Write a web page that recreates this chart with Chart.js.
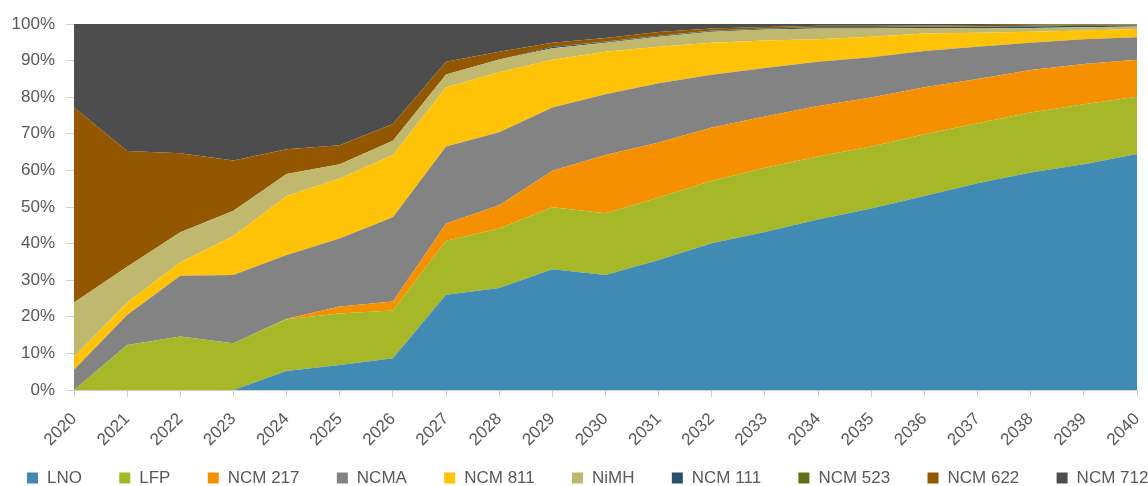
<!DOCTYPE html>
<html>
<head>
<meta charset="utf-8">
<script src="https://cdn.jsdelivr.net/npm/chart.js@4.4.1/dist/chart.umd.min.js"></script>
<style>
  html, body { margin: 0; padding: 0; background: #fff; }
  #wrap { width: 1148px; height: 486px; position: relative; }
</style>
</head>
<body>
<div id="wrap"><canvas id="mix-chart"></canvas></div>
<script>
const years = ["2020", "2021", "2022", "2023", "2024", "2025", "2026", "2027", "2028", "2029", "2030",
  "2031", "2032", "2033", "2034", "2035", "2036", "2037", "2038", "2039", "2040"];

// share of each chemistry, % (stacked to 100)
const lno    = [0, 0, 0, 0, 5.2, 6.8, 8.7, 26.0, 27.9, 33.0, 31.4, 35.5, 40.1, 43.2, 46.6, 49.6, 53.0, 56.5, 59.4, 61.7, 64.5];
const lfp    = [0, 12.3, 14.6, 12.8, 14.1, 14.1, 13.0, 14.8, 16.2, 16.9, 16.9, 17.1, 17.1, 17.5, 17.2, 16.9, 16.9, 16.4, 16.4, 16.4, 15.6];
const ncm217 = [0, 0, 0, 0, 0.2, 1.9, 2.5, 4.7, 6.4, 10.0, 15.9, 15.0, 14.5, 14.0, 13.8, 13.4, 12.8, 12.1, 11.6, 11.0, 10.1];
const ncma   = [5.5, 8.2, 16.6, 18.6, 17.4, 18.6, 23.0, 21.0, 19.9, 17.3, 16.6, 16.2, 14.4, 13.3, 12.1, 11.0, 9.9, 8.8, 7.5, 6.7, 6.2];
const ncm811 = [3.6, 3.4, 3.7, 10.7, 16.1, 16.4, 17.0, 16.2, 16.4, 13.0, 11.6, 10.0, 8.8, 7.5, 6.1, 5.6, 4.8, 3.8, 3.0, 2.4, 2.2];
const nimh   = [14.8, 9.8, 8.2, 6.9, 6.0, 3.9, 3.9, 3.5, 3.5, 3.2, 2.5, 2.7, 3.0, 3.0, 3.0, 2.3, 1.5, 1.2, 1.0, 0.9, 0.7];
const ncm111 = [0, 0, 0, 0, 0, 0, 0, 0, 0, 0.3, 0.2, 0.2, 0.2, 0.2, 0.3, 0.3, 0.3, 0.4, 0.4, 0.4, 0.3];
const ncm523 = [0, 0, 0, 0, 0, 0, 0, 0, 0, 0, 0.1, 0.1, 0.1, 0.1, 0.1, 0.1, 0.1, 0.1, 0.2, 0.2, 0.2];
const ncm622 = [53.3, 31.6, 21.6, 13.7, 6.8, 5.2, 4.6, 3.5, 2.1, 1.2, 1.0, 1.0, 0.6, 0.4, 0.3, 0.3, 0.3, 0.4, 0.3, 0.2, 0.1];
const ncm712 = [22.8, 34.7, 35.3, 37.3, 34.2, 33.1, 27.3, 10.3, 7.6, 5.1, 3.8, 2.2, 1.2, 0.8, 0.5, 0.5, 0.4, 0.3, 0.2, 0.1, 0.1];

const yTicks = [0, 10, 20, 30, 40, 50, 60, 70, 80, 90, 100];

const series = [
  { label: "LNO", data: lno, color: "#418ab3" },
  { label: "LFP", data: lfp, color: "#a6b727" },
  { label: "NCM 217", data: ncm217, color: "#f59100" },
  { label: "NCMA", data: ncma, color: "#838383" },
  { label: "NCM 811", data: ncm811, color: "#fec306" },
  { label: "NiMH", data: nimh, color: "#bfb86e" },
  { label: "NCM 111", data: ncm111, color: "#26506b" },
  { label: "NCM 523", data: ncm523, color: "#636e17" },
  { label: "NCM 622", data: ncm622, color: "#935700" },
  { label: "NCM 712", data: ncm712, color: "#4d4d4d" }
];

const FONT = "'Liberation Sans', Arial, sans-serif";
const TEXT = "#595959";
const AXIS = "#d0d0d0";

Chart.defaults.font.family = FONT;
Chart.defaults.font.size = 17;
Chart.defaults.color = TEXT;

// one-row legend under the axis, spaced like the original
const bottomLegend = {
  id: "bottomLegend",
  afterDraw(chart) {
    const ctx = chart.ctx;
    ctx.save();
    ctx.font = "17px " + FONT;
    ctx.textAlign = "left";
    ctx.textBaseline = "middle";
    let x = 27;
    const y = 478;
    chart.data.datasets.forEach((ds) => {
      ctx.fillStyle = ds.backgroundColor;
      ctx.fillRect(x, y - 5.5, 11, 11);
      ctx.fillStyle = TEXT;
      ctx.fillText(ds.label, x + 20, y);
      x += 20 + ctx.measureText(ds.label).width + 37.3;
    });
    ctx.restore();
  }
};

new Chart(document.getElementById("mix-chart"), {
  type: "line",
  data: {
    labels: years,
    datasets: series.map((s, i) => ({
      label: s.label,
      data: s.data,
      backgroundColor: s.color,
      borderColor: s.color,
      borderWidth: 0,
      pointRadius: 0,
      tension: 0,
      fill: i === 0 ? "origin" : "-1"
    }))
  },
  options: {
    responsive: true,
    maintainAspectRatio: false,
    animation: false,
    layout: { padding: { left: 0, right: 11, top: 24, bottom: 0 } },
    scales: {
      x: {
        offset: false,
        grid: { drawOnChartArea: false, color: AXIS, tickLength: 7 },
        border: { color: AXIS, width: 1 },
        ticks: { color: TEXT, minRotation: 45, maxRotation: 45, autoSkip: false, padding: 12 },
        afterFit: (scale) => {
          scale.height = 96;
          scale.paddingLeft = 0;
          scale.paddingRight = 0;
        }
      },
      y: {
        stacked: true,
        min: 0,
        max: 100,
        afterBuildTicks: (scale) => { scale.ticks = yTicks.map((v) => ({ value: v })); },
        grid: { drawOnChartArea: false, color: AXIS, tickLength: 8 },
        border: { color: AXIS, width: 1 },
        ticks: { color: TEXT, padding: 11, callback: (v) => v + "%" },
        afterFit: (scale) => { scale.width = 74; }
      }
    },
    plugins: {
      tooltip: { enabled: false },
      legend: { display: false }
    }
  },
  plugins: [bottomLegend]
});
</script>
</body>
</html>
